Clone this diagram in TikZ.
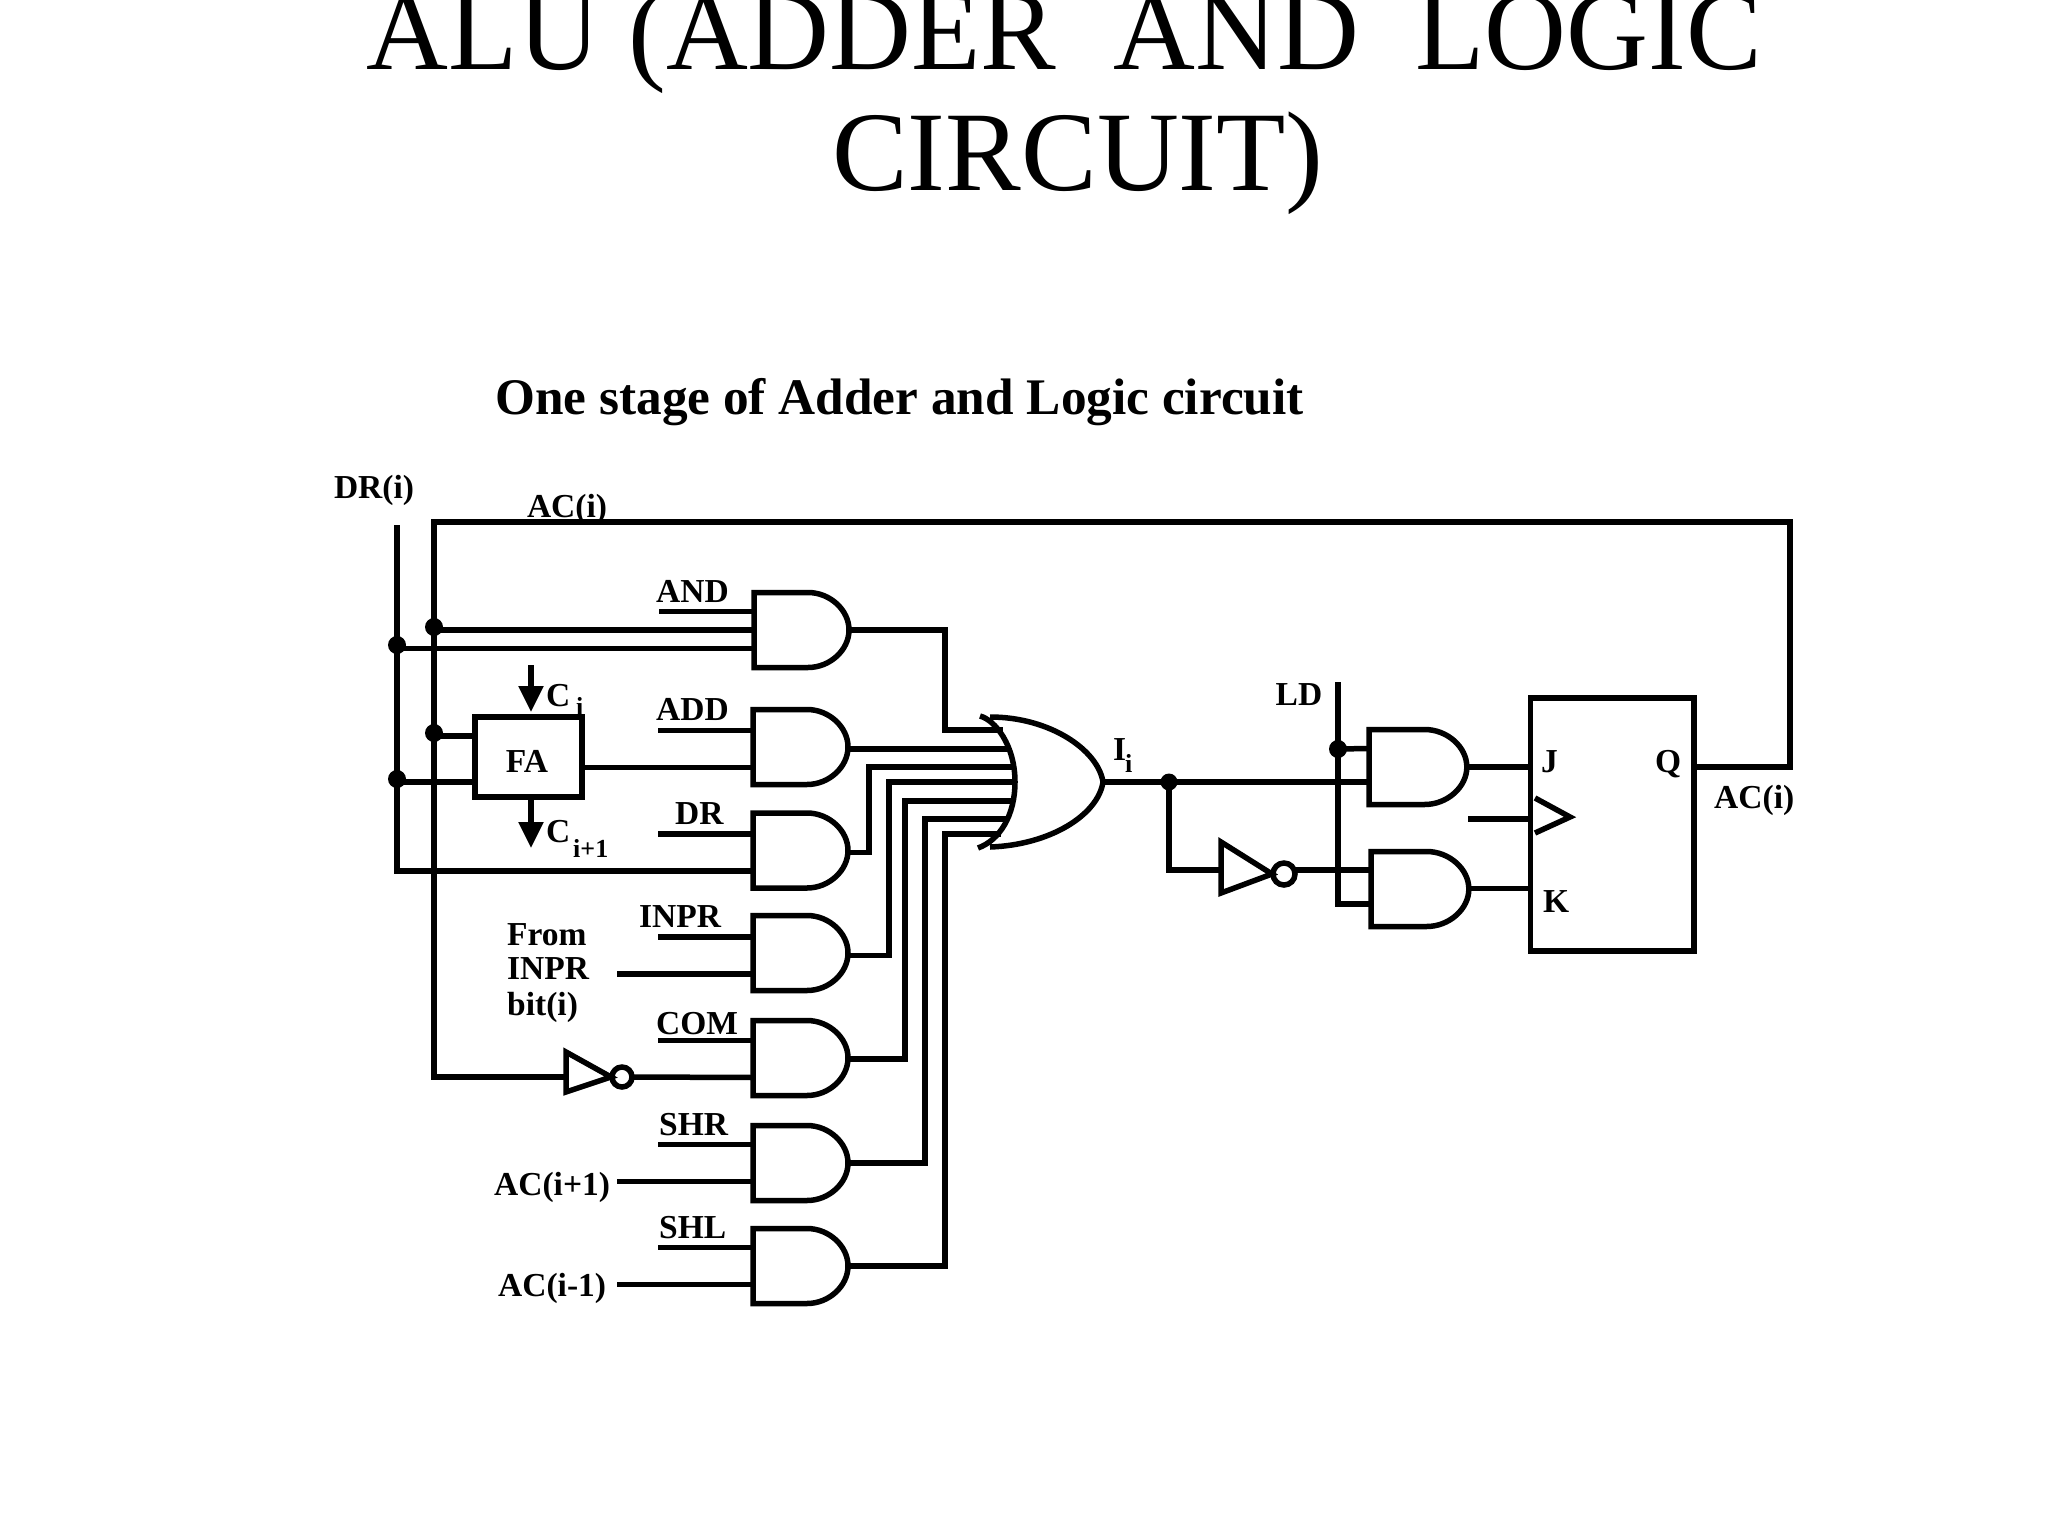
\documentclass[tikz,border=0pt]{standalone}
\usepackage{fontspec}
\setmainfont{Liberation Serif}
\usetikzlibrary{arrows.meta,calc}
\tikzset{
  wire/.style={line width=5.5pt,black},
  lab/.style={font=\fontsize{33.5}{33.5}\selectfont\bfseries,inner sep=0pt,anchor=base,align=center},
  labl/.style={font=\fontsize{33.5}{33.5}\selectfont\bfseries,inner sep=0pt,anchor=base west},
  sub/.style={font=\fontsize{26}{26}\selectfont\bfseries,inner sep=0pt,anchor=base west},
  dot/.style={circle,fill=black,inner sep=0pt,minimum size=18pt},
  block/.style={draw=black,line width=5.5pt,rectangle,inner sep=0pt,outer sep=0pt},
  arr/.style={wire,-{Triangle[length=26pt,width=24pt]}},
  pics/andg/.default=0,
  pics/andg/.style={code={
    \draw[wire,shift={(0,#1)}] (0,-37.5) -- (54,-37.5) .. controls (76,-37.5) and (95,-20) .. (95,0)
       .. controls (95,20) and (76,37.5) .. (54,37.5) -- (0,37.5) -- cycle;
    \coordinate (-a) at (0,-18.5);
    \coordinate (-b) at (0,18.5);
    \coordinate (-m) at (0,0);
    \coordinate (-o) at (95,0);
  }},
  pics/notA/.style={code={
    \draw[wire] (0,-25) -- (45,0) -- (0,15) -- cycle;
    \draw[wire] (56,0) circle[radius=10pt];
    \coordinate (-i) at (0,0);
    \coordinate (-o) at (66,0);
  }},
  pics/notB/.style={code={
    \draw[wire] (0,-28) -- (51,4) -- (0,23) -- cycle;
    \draw[wire] (63,4) circle[radius=11pt];
    \coordinate (-i) at (0,0);
    \coordinate (-o) at (74,0);
  }},
}
\begin{document}
\begin{tikzpicture}[x=1pt,y=-1pt]
\useasboundingbox (0,0) rectangle (2048,1536);
% titles
\node[font=\fontsize{113.4}{113.4}\selectfont,inner sep=0pt,anchor=base] (t1) at (1064.5,70) {ALU (ADDER\ \ AND\ \ LOGIC};
\node[font=\fontsize{113.4}{113.4}\selectfont,inner sep=0pt,anchor=base] (t2) at (1078,190) {CIRCUIT)};
\node[font=\fontsize{51.3}{51.3}\selectfont\bfseries,inner sep=0pt,anchor=base] (t3) at (899.5,414) {One stage of Adder and Logic circuit};
% AND gates
\pic (gAND) at (754,630) {andg};
\pic (gADD) at (753,749) {andg=-2};
\pic (gDR) at (753,852.5) {andg=-2};
\pic (gINPR) at (753,955.5) {andg=-2.5};
\pic (gCOM) at (753,1059) {andg=-1};
\pic (gSHR) at (753,1163) {andg};
\pic (gSHL) at (753,1266) {andg};
\pic[xscale=1.03] (gJ) at (1369,767) {andg};
\pic[xscale=1.03] (gK) at (1371,888.5) {andg=0.5};
% OR gate
\draw[wire] (980,716) .. controls (995,720) and (1015,745) .. (1015,782)
   .. controls (1015,815) and (1000,840) .. (978,848);
\draw[wire] (990,717) .. controls (1050,717) and (1098,750) .. (1103,782)
   .. controls (1098,815) and (1050,845) .. (990,847);
\coordinate (or1) at (1003,730);
\coordinate (or2) at (1011,749);
\coordinate (or3) at (1014,767);
\coordinate (or4) at (1015,782);
\coordinate (or5) at (1012,801);
\coordinate (or6) at (1007,819);
\coordinate (or7) at (1001,834);
\coordinate (orout) at (1103,782);
% inverters
\pic (n1) at (566,1077) {notA};
\pic (n2) at (1221,870) {notB};
% FA and JK blocks
\node[block,minimum width=107pt,minimum height=80pt] (fa) at (528.5,757) {};
\node[lab] (lFA) at (527,772) {FA};
\node[block,minimum width=163.5pt,minimum height=253pt] (jk) at (1612,824.5) {};
% clock
\coordinate (ckT) at (1535,798);
\coordinate (ckM) at (1570,817);
\coordinate (ckB) at (1535,833);
\coordinate (ckI) at (1468,819);
\draw[wire] (ckT) -- (ckM) -- (ckB);
\draw[wire] (ckI) -- (ckI -| jk.west);
% dots
\node[dot] (dAC1) at (434,627) {};
\node[dot] (dDR1) at (397,645) {};
\node[dot] (dAC2) at (434,733) {};
\node[dot] (dDR2) at (397,779) {};
\node[dot,minimum size=17pt] (dI) at (1169,782) {};
\node[dot] (dLD) at (1338,749) {};
% DR and AC buses
\coordinate (drTop) at (397,525);
\coordinate (acCorner) at (434,522);
\coordinate (acRight) at (1790,522);
\coordinate (qOut) at (1694,767);
\draw[wire] (drTop) |- (gDR-b);
\draw[wire] (qOut) -| (acRight) -- (acCorner) |- (n1-i);
\draw[wire] (dAC1.center |- gAND-m) -- (gAND-m);
\draw[wire] (dDR1.center |- gAND-b) -- (gAND-b);
% free control wires
\foreach \g in {AND,ADD,DR,INPR,COM,SHR,SHL}{
  \coordinate (s\g) at ($(g\g-a)+(-95,0)$);
  \draw[wire] (s\g) -- (g\g-a);
}
\coordinate (fINPR) at (617,974);
\coordinate (fSHR) at (617,1181.5);
\coordinate (fSHL) at (617,1284.5);
\draw[wire] (fINPR) -- (gINPR-b);
\draw[wire] (fSHR) -- (gSHR-b);
\draw[wire] (fSHL) -- (gSHL-b);
\draw[wire] (n1-o) -- (gCOM-b);
% FA wires
\coordinate (faA) at (475,736);
\coordinate (faB) at (475,782);
\draw[wire] (dAC2.center |- faA) -- (faA);
\draw[wire] (dDR2.center |- faB) -- (faB);
\draw[wire] (fa.east |- gADD-b) -- (gADD-b);
\coordinate (ciTop) at (531,665);
\coordinate (ciTip) at (531,712);
\coordinate (coTop) at (531,797);
\coordinate (coTip) at (531,848);
\draw[arr] (ciTop) -- (ciTip);
\draw[arr] (coTop) -- (coTip);
% gate outputs to OR
\draw[wire] (gAND-o) -| (945,730) -- (or1);
\draw[wire] (gADD-o) -- (or2);
\draw[wire] (gDR-o) -| (869,767) -- (or3);
\draw[wire] (gINPR-o) -| (889,782) -- (or4);
\draw[wire] (gCOM-o) -| (905,801) -- (or5);
\draw[wire] (gSHR-o) -| (925,819) -- (or6);
\draw[wire] (gSHL-o) -| (945,834) -- (or7);
% right side
\draw[wire] (orout) -- (orout -| gJ-m);
\draw[wire] (dI.center) |- (n2-i);
\draw[wire] (n2-o) -- (gK-a);
\coordinate (ldTop) at (1338,682);
\coordinate (ldEnd) at (1371,904);
\draw[wire] (ldTop) |- (ldEnd);
\draw[wire] (dLD.center) -- (gJ-a);
\draw[wire] (gJ-o) -- (jk.west |- gJ-o);
\draw[wire] (gK-o) -- (jk.west |- gK-o);
% labels
\node[lab] (lDR) at (374,498) {DR(i)};
\node[lab] (lAC) at (567,517) {AC(i)};
\node[labl] (lAND) at (656,602) {AND};
\node[labl] (lADD) at (656,720) {ADD};
\node[labl] (lDRc) at (675,824) {DR};
\node[labl] (lINPR) at (639,927) {INPR};
\node[labl] (lF1) at (507,945) {From};
\node[labl] (lF2) at (507,979) {INPR};
\node[labl] (lF3) at (507,1015) {bit(i)};
\node[labl] (lCOM) at (656,1034) {COM};
\node[labl] (lSHR) at (659,1135) {SHR};
\node[labl] (lSHL) at (659,1238) {SHL};
\node[labl] (lACp) at (494,1195) {AC(i+1)};
\node[labl] (lACm) at (498,1296) {AC(i-1)};
\node[labl] (lC1) at (546,706) {C};
\node[sub] (lC1s) at (576,715) {i};
\node[labl] (lC2) at (546,842) {C};
\node[sub] (lC2s) at (573,857) {i+1};
\node[labl] (lI) at (1113,760) {I};
\node[sub] (lIs) at (1125,772) {i};
\node[lab] (lLD) at (1299,705) {LD};
\node[labl] (lJ) at (1541,772) {J};
\node[labl] (lQ) at (1655,772) {Q};
\node[labl] (lK) at (1543,912) {K};
\node[labl] (lACo) at (1714,808) {AC(i)};
\end{tikzpicture}
\end{document}
